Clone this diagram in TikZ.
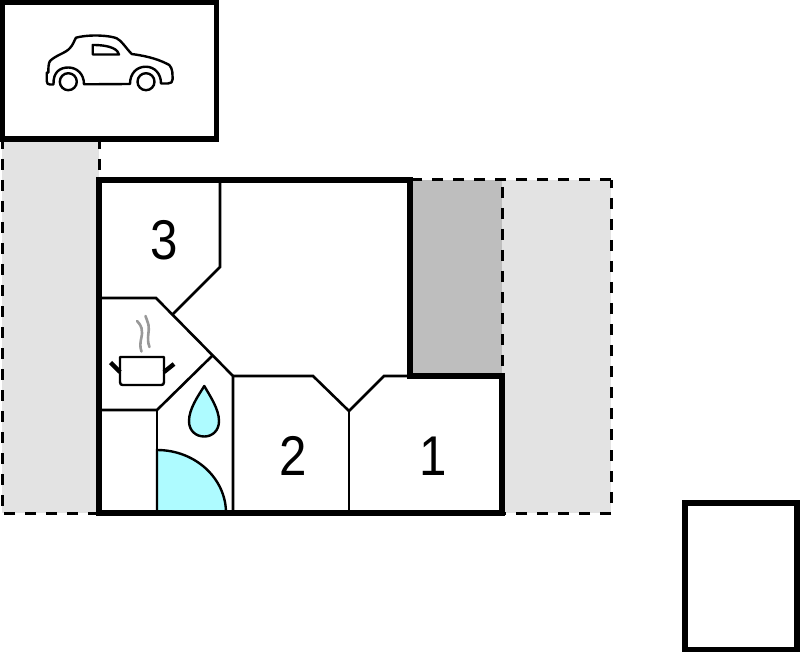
\documentclass[tikz,border=0pt]{standalone}
\usepackage{fontspec}
\usepackage{graphicx}
\setmainfont{Liberation Sans}
\definecolor{lightyard}{HTML}{E3E3E3}
\definecolor{darkyard}{HTML}{BEBEBE}
\definecolor{waterblue}{HTML}{AEFBFF}
\definecolor{steamgray}{HTML}{999999}
\tikzset{
  wall/.style={draw=black,line width=5.2pt,line join=miter},
  partition/.style={draw=black,line width=2.6pt,line join=miter},
  yardedge/.style={draw=black,line width=3pt,dash pattern=on 11pt off 10pt},
  icon/.style={draw=black,line width=2.4pt,line join=round,line cap=round},
  steam/.style={draw=steamgray,line width=2.6pt,line cap=round},
  roomlabel/.style={font=\fontsize{56}{60}\selectfont,text=black,inner sep=0pt}
}
\newcommand{\roomnum}[1]{\scalebox{0.88}[1]{#1}}
\begin{document}
\begin{tikzpicture}[x=1pt,y=-1pt]
\useasboundingbox (0,0) rectangle (800,652);
\fill[white] (0,0) rectangle (800,652);
% yards
\fill[lightyard] (2,141) rectangle (99,513);
\fill[lightyard] (502,180) rectangle (611,513);
\fill[darkyard] (410,180) rectangle (502,376);
% dashed borders
\draw[yardedge,dash phase=3pt] (2,141) -- (2,513);
\draw[yardedge] (99,513) -- (2,513);
\draw[yardedge,dash phase=3pt] (99,141) -- (99,180);
\draw[yardedge] (611,180) -- (410,180);
\draw[yardedge,dash phase=3pt] (611,180) -- (611,513);
\draw[yardedge] (611,513) -- (502,513);
\draw[yardedge,dash phase=14pt] (502,180) -- (502,376);
% bath fixture
\fill[waterblue,draw=black,line width=2.4pt] (157,513) -- (157,450) arc[start angle=-90,end angle=0,x radius=69,y radius=63] -- cycle;
% partitions
\draw[partition] (220,180) -- (220,267) -- (172,315);
\draw[partition] (99,298) -- (156,298) -- (233,376) -- (233,513);
\draw[partition] (233,376) -- (313,376) -- (349,411) -- (384,376) -- (410,376);
\draw[partition] (349,411) -- (349,513);
\draw[partition] (212,356) -- (157,410) -- (99,410);
\draw[partition] (157,410) -- (157,513);
% walls
\draw[wall] (99,180) -- (410,180) -- (410,376) -- (502,376) -- (502,513) -- (99,513) -- cycle;
\draw[wall] (2.5,2) rectangle (216.5,139);
\draw[wall] (685,503) rectangle (797,649.5);
% labels
\node[roomlabel] (room3) at (164.5,240) {\roomnum{3}};
\node[roomlabel] (room2) at (293,456) {\roomnum{2}};
\node[roomlabel] (room1) at (433,456) {\roomnum{1}};
% water drop
\fill[waterblue,draw=black,line width=2.4pt,line join=round] (204.3,386) .. controls (198,396) and (189,409) .. (189,421) .. controls (189,431) and (196,436.5) .. (204.3,436.5) .. controls (212,436.5) and (219,431) .. (219,421) .. controls (219,409) and (210,396) .. (204.3,386) -- cycle;
% pot
\draw[icon] (120,357) -- (164,357) -- (164,382) .. controls (164,384.5) and (163,385) .. (161,385) -- (123,385) .. controls (121,385) and (120,384.5) .. (120,382) -- cycle;
\draw[draw=black,line width=4.4pt] (110.5,362.5) -- (120,372);
\draw[draw=black,line width=4.4pt] (174,364) -- (164,372);
\draw[steam] (141.5,351.5) .. controls (138,342) and (144,335) .. (141.5,328) .. controls (140,324) and (138,322) .. (137,321);
\draw[steam] (149.5,347) .. controls (146,338) and (150,331) .. (148.5,325) .. controls (147.5,321) and (146,318) .. (145.5,316);
% car
\draw[icon] (46.7,72.7) -- (46.7,81) .. controls (46.7,83.5) and (48,84.5) .. (50,84.5) -- (53.5,84.5)
  .. controls (53,72) and (60,67.5) .. (68.3,67.5) .. controls (77,67.5) and (84,74) .. (84,84.3)
  -- (130,84) .. controls (130,73) and (137,66.7) .. (145.7,66.7) .. controls (155,66.7) and (161,74) .. (161,83.5)
  -- (168,83.5) .. controls (171,83.5) and (172.7,82) .. (172.7,79) -- (172.3,72) .. controls (172,69) and (171,67) .. (169.3,65)
  .. controls (160,60) and (150,56.5) .. (131.7,54) .. controls (125,47) and (122,41) .. (116.7,38.3)
  .. controls (110,35.5) and (90,34) .. (76,37.7) .. controls (74,41) and (73,45) .. (70,48) .. controls (66,53) and (56,55) .. (50,61)
  .. controls (48.5,63) and (48.3,68) .. (48.3,72.7) -- cycle;
\draw[icon] (68.3,81.7) circle[radius=8.5];
\draw[icon] (146,81.7) circle[radius=8.5];
\draw[icon] (92.7,45) -- (92.7,54.5) -- (119,54.5) .. controls (118,50) and (112,45) .. (92.7,45) -- cycle;
\end{tikzpicture}
\end{document}
